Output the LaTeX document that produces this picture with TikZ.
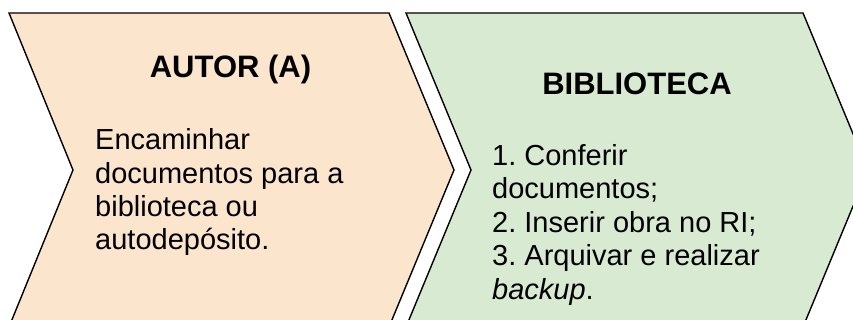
\documentclass[tikz,border=0pt]{standalone}
\usepackage{fontspec}
\setmainfont{Liberation Sans}
\frenchspacing
\definecolor{peach}{HTML}{FCE5CD}
\definecolor{lightgreen}{HTML}{D9EAD3}
\tikzset{
  chevron/.style={draw=black, line width=1.4pt, line join=miter},
  title/.style={anchor=base, inner sep=0pt, font=\fontsize{31}{36}\selectfont\bfseries},
  body/.style={anchor=base west, inner sep=0pt, align=left, font=\fontsize{29}{33.4}\selectfont}
}
\begin{document}
\begin{tikzpicture}[x=1pt,y=-1pt]
\useasboundingbox (0,0) rectangle (853,320);
\clip (0,0) rectangle (853,320);
\fill[white] (0,0) rectangle (853,320);
\filldraw[chevron, fill=peach] (9,13) -- (389,13) -- (454,170) -- (389,327) -- (9,327) -- (73,170) -- cycle;
\filldraw[chevron, fill=lightgreen] (406,13) -- (803,13) -- (868,170) -- (803,327) -- (406,327) -- (471,170) -- cycle;
\node[title] (t1) at (230.5,78) {AUTOR (A)};
\node[title] (t2) at (637,95) {BIBLIOTECA};
\node[body] (b1) at (95,250) {Encaminhar\\documentos para a\\biblioteca ou\\autodepósito.};
\node[body] (b2) at (492,299) {1. Conferir\\documentos;\\2. Inserir obra no RI;\\3. Arquivar e realizar\\\textit{backup}.};
\end{tikzpicture}
\end{document}
